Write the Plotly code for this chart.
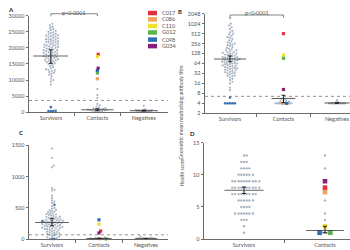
import numpy as np
import plotly.graph_objects as go

W, H = 350, 250
FONT = "Lato"
GROUPS = ["Survivors", "Contacts", "Negatives"]
IDS = ["C017", "C086", "C110", "G012", "C098", "G034"]
ID_COLORS = ["#e2313a", "#f3a15c", "#efe22a", "#5bb449", "#2d6fb7", "#8a1c7c"]
GREY = "#aab5c2"
LOWBLUE = "#3a72b5"

# ---------------- Panel A : neutralising antibody (ELISA units) ----------------
A_SURVIVORS = [27500, 27000, 26500, 26200, 25800, 25500, 25300, 25000, 24800, 24600, 24400,
               24200, 24000, 23800, 23700, 23500, 23300, 23200, 23000, 22800, 22600, 22500,
               22300, 22100, 22000, 21800, 21700, 21500, 21300, 21200, 21000, 20800, 20700,
               20500, 20300, 20200, 20000, 19800, 19700, 19500, 19300, 19200, 19000, 18800,
               18700, 18500, 18400, 18200, 18000, 17900, 17700, 17500, 17400, 17200, 17000,
               16900, 16700, 16500, 16400, 16200, 16000, 15800, 15600, 15400, 15200, 15000,
               14700, 14400, 14000, 13700, 13400, 13200, 13000, 12800, 12500, 12300, 12000,
               11700, 11200, 10500, 10000, 9500, 8600, 23900, 22700, 21900, 20900, 20100,
               19100, 18100, 17100, 16100]
A_SURVIVORS_LOW = [1600, 450, 400, 400, 350]
A_CONTACTS = [7200, 5400, 4500, 2600, 2200, 1800, 1500, 1300, 1200, 1100, 1000, 900, 850,
              800, 700, 650, 600, 500, 400, 300, 200, 100]
A_CONTACTS_ID = [18000, 10400, 17300, 12200, 13000, 13700]
A_NEGATIVES = [2000, 900, 800, 750, 700, 650, 600, 600, 550, 500, 500, 450, 400, 400, 350,
               300, 250, 200]
A_MEDIAN = [17500, 800, 500]
A_LOW = [15200, 500, 400]
A_HIGH = [19400, 1100, 650]
A_CUTOFF = 3700
A_TICKS = [0, 5000, 10000, 15000, 20000, 25000, 30000]

# ---------------- Panel B : geometric mean neutralising titre ----------------
B_SURVIVORS = [1500, 1024, 900, 800, 700, 620, 560, 512, 480, 440, 400, 380, 350, 320, 300,
               280, 260, 256, 240, 230, 220, 200, 190, 180, 170, 160, 160, 150, 145, 140, 135,
               128, 128, 125, 120, 115, 110, 108, 105, 100, 100, 98, 95, 92, 90, 88, 86, 84,
               82, 80, 80, 78, 76, 74, 72, 70, 68, 66, 64, 64, 62, 60, 58, 56, 55, 54, 52, 50,
               48, 47, 46, 45, 44, 42, 40, 40, 38, 36, 35, 34, 32, 32, 30, 28, 27, 26, 24, 22,
               20, 18, 16, 12, 10]
B_SURVIVORS_LOW = [6, 4, 4, 4, 4, 4]
B_CONTACTS = [6, 5.5, 5, 5, 4.5, 4.5, 4, 4, 4, 4, 4, 4, 4, 4, 4, 4, 4, 4, 4, 4]
B_CONTACTS_ID = [512, 4, 115, 92, 4, 10.5]
B_NEGATIVES = [5, 4, 4, 4, 4, 4, 4, 4, 4, 4, 4, 4, 4, 4, 4, 4, 4, 4, 4, 4, 4]
B_MEDIAN = [88, 5.6, 4.1]
B_LOW = [72, 4.2, 4]
B_HIGH = [108, 7, 4.3]
B_CUTOFF = 6.5
B_TICKS = [2, 4, 8, 16, 32, 64, 128, 256, 512, 1024, 2048]

# ---------------- Panel C ----------------
C_SURVIVORS = [1450, 1300, 1180, 1150, 820, 790, 780, 700, 660, 620, 600, 580, 530, 500,
               490, 470, 460, 450, 440, 430, 420, 410, 400, 395, 390, 380, 370, 360, 355, 350,
               340, 335, 330, 320, 315, 310, 305, 300, 295, 290, 285, 280, 275, 270, 265, 260,
               255, 250, 245, 240, 235, 230, 225, 220, 215, 210, 205, 200, 195, 190, 185, 180,
               175, 170, 165, 160, 150, 145, 140, 130, 120, 115, 110, 100, 95, 90, 80, 75, 70,
               60, 50, 40, 30, 20, 10]
C_SURVIVORS_LOW = [550, 290, 5, 5]
C_CONTACTS = [30, 20, 15, 12, 10, 8, 6, 5, 4, 3, 2, 1]
C_CONTACTS_ID = [130, 10, 240, 5, 310, 100]
C_NEGATIVES = [40, 25, 20, 18, 15, 12, 10, 10, 8, 8, 6, 5, 4, 3, 2]
C_MEDIAN = [268, 10, 8]
C_LOW = [215, 5, 5]
C_HIGH = [335, 15, 12]
C_CUTOFF = 70
C_TICKS = [0, 500, 1000, 1500]

# ---------------- Panel D : health score ----------------
D_SCORES = [1, 2, 3, 4, 5, 6, 7, 8, 9, 10, 11, 12, 13]
D_SURV_COUNTS = [1, 1, 3, 7, 4, 6, 9, 10, 10, 6, 4, 3, 2]
D_CONTACTS = [13, 11, 6, 4, 3, 1, 1, 1]
D_CONTACTS_ID = [8, 7.3, 2, 1, 1, 9]
D_MEDIAN = [7.6, 1.35]
D_LOW = [7.1, 1.0]
D_HIGH = [8.1, 2.0]
D_TICKS = [0, 5, 10, 15]


def swarm(pys, d, maxw):
    pys = np.asarray(pys, float)
    order = np.argsort(pys, kind="stable")
    step = d / 3.0
    cands = [0.0]
    k = 1
    while k * step <= maxw:
        cands += [k * step, -k * step]
        k += 1
    placed = []
    xs = np.zeros(len(pys))
    for i in order:
        y = pys[i]
        chosen, best, bestc = None, -1, 0.0
        near = [(px, py) for px, py in placed if abs(py - y) < d]
        for c in cands:
            md = min([(c - px) ** 2 + (y - py) ** 2 for px, py in near], default=1e9)
            if md >= d * d:
                chosen = c
                break
            if md > best:
                best, bestc = md, c
        if chosen is None:
            chosen = bestc
        xs[i] = chosen
        placed.append((chosen, y))
    return xs


fig = go.Figure()


def add_panel(xa, ya, groups, ypix, xscale, d, maxws, idsize, gsize=2.2):
    gx, gy, lx, ly = [], [], [], []
    idx = {k: ([], []) for k in range(len(IDS))}
    for cat, grey, low, ids, in groups:
        vals = list(grey) + list(low) + list(ids)
        kinds = ["g"] * len(grey) + ["l"] * len(low) + [("i", j) for j in range(len(ids))]
        off = swarm([ypix(v) for v in vals], d, maxws[cat])
        for v, k, o in zip(vals, kinds, off):
            x = cat + o / xscale
            if k == "g":
                gx.append(x); gy.append(v)
            elif k == "l":
                lx.append(x); ly.append(v)
            else:
                idx[k[1]][0].append(x); idx[k[1]][1].append(v)
    common = dict(xaxis=xa, yaxis=ya, mode="markers", showlegend=False, cliponaxis=False,
                  hoverinfo="skip")
    fig.add_trace(go.Scatter(x=gx, y=gy, marker=dict(size=gsize, color=GREY), **common))
    if lx:
        fig.add_trace(go.Scatter(x=lx, y=ly, marker=dict(size=2.6, color=LOWBLUE), **common))
    for j in range(len(IDS)):
        if idx[j][0]:
            fig.add_trace(go.Scatter(x=idx[j][0], y=idx[j][1],
                                     marker=dict(size=idsize, symbol="square", color=ID_COLORS[j]),
                                     **common))


def add_median(xa, ya, med, lo, hi, widths):
    n = len(med)
    fig.add_trace(go.Scatter(
        x=list(range(n)), y=med, xaxis=xa, yaxis=ya, mode="markers", showlegend=False,
        cliponaxis=False, hoverinfo="skip",
        marker=dict(symbol="line-ew-open", size=widths, color="#222",
                    line=dict(width=1.1, color="#222")),
        error_y=dict(type="data", symmetric=False,
                     array=[h - m for h, m in zip(hi, med)],
                     arrayminus=[m - l for m, l in zip(med, lo)],
                     width=2, thickness=1, color="#222")))


# Panel A
add_panel("x", "y", [(0, A_SURVIVORS, A_SURVIVORS_LOW, []),
                     (1, A_CONTACTS, [], A_CONTACTS_ID),
                     (2, A_NEGATIVES, [], [])],
          lambda v: v / 30000 * 99, 46.5, 2.4, {0: 11, 1: 10, 2: 8}, 3.2)
add_median("x", "y", A_MEDIAN, A_LOW, A_HIGH, [25, 23, 20])

# Panel B
add_panel("x2", "y2", [(0, B_SURVIVORS, B_SURVIVORS_LOW, []),
                       (1, B_CONTACTS, [], B_CONTACTS_ID),
                       (2, B_NEGATIVES, [], [])],
          lambda v: (np.log2(v) - 1) * 10.2, 53.5, 2.4, {0: 11, 1: 9, 2: 9}, 3.2)
add_median("x2", "y2", B_MEDIAN, B_LOW, B_HIGH, [23, 17, 18])

# Panel C
add_panel("x3", "y3", [(0, C_SURVIVORS, C_SURVIVORS_LOW, []),
                       (1, C_CONTACTS, [], C_CONTACTS_ID),
                       (2, C_NEGATIVES, [], [])],
          lambda v: v / 1500 * 96, 47, 2.4, {0: 12, 1: 9, 2: 9}, 3.2)
add_median("x3", "y3", C_MEDIAN, C_LOW, C_HIGH, [24, 18, 16])

# Panel D
D_SURVIVORS = list(np.repeat(D_SCORES, D_SURV_COUNTS))
add_panel("x4", "y4", [(0, D_SURVIVORS, [], []),
                       (1, D_CONTACTS, [], D_CONTACTS_ID)],
          lambda v: v / 15 * 99, 81, 2.7, {0: 16, 1: 8}, 4.6, gsize=2.4)
add_median("x4", "y4", D_MEDIAN, D_LOW, D_HIGH, [28, 27])

AX = dict(showline=True, linecolor="#6b6b6b", linewidth=0.8, showgrid=False, zeroline=False,
          tickfont=dict(size=5.5, color="#555", family=FONT), ticks="outside", ticklen=2.5,
          tickwidth=0.8, tickcolor="#6b6b6b", fixedrange=True)
XMINOR3 = dict(tickmode="array", tickvals=[0.5, 1.5], ticks="outside", ticklen=2.5,
               tickcolor="#6b6b6b", tickwidth=0.8)


def xax(domain, rng, cats, minor):
    d = dict(AX)
    d.update(domain=domain, range=rng, tickmode="array", tickvals=list(range(len(cats))),
             ticktext=cats, ticks="", minor=minor)
    return d


def yax(domain, rng, ticks, anchor, log=False):
    d = dict(AX)
    d.update(domain=domain, range=rng, tickmode="array", tickvals=ticks,
             ticktext=[str(t) for t in ticks], anchor=anchor)
    if log:
        d.update(type="log")
    return d


fig.update_layout(
    width=W, height=H, margin=dict(l=0, r=0, t=0, b=0),
    paper_bgcolor="white", plot_bgcolor="white", font=dict(family=FONT, size=5.5, color="#444"),
    xaxis=xax([29 / W, 168 / W], [-0.47, 2.52], GROUPS, XMINOR3) | dict(anchor="y"),
    yaxis=yax([1 - 112 / H, 1 - 13 / H], [0, 30000], A_TICKS, "x"),
    xaxis2=xax([205 / W, 1.0], [-0.467, 2.243], GROUPS, XMINOR3) | dict(anchor="y2"),
    yaxis2=yax([1 - 113 / H, 1 - 11 / H], [np.log10(2), np.log10(2048)], B_TICKS, "x2", log=True),
    xaxis3=xax([29 / W, 168 / W], [-0.49, 2.47], GROUPS, XMINOR3) | dict(anchor="y3"),
    yaxis3=yax([1 - 242 / H, 1 - 146 / H], [0, 1500], C_TICKS, "x3"),
    xaxis4=xax([204 / W, 1.0], [-0.494, 1.309], GROUPS[:2],
               dict(XMINOR3, tickvals=[0.5])) | dict(anchor="y4"),
    yaxis4=yax([1 - 242 / H, 1 - 143 / H], [0, 15], D_TICKS, "x4"),
)

shapes = []
ann = []
for xr, yr, v in [("x", "y", A_CUTOFF), ("x2", "y2", B_CUTOFF), ("x3", "y3", C_CUTOFF)]:
    shapes.append(dict(type="line", xref=xr + " domain", yref=yr, x0=0, x1=1, y0=v, y1=v,
                       line=dict(color="#777", width=0.8, dash="dot")))
for xr, ytop, ybot, tx, ty in [("x", 11, 13.5, 0.5, 5.5), ("x2", 12.3, 15, 0.5, 5.5)]:
    yt, yb = 1 - ytop / H, 1 - ybot / H
    shapes.append(dict(type="path", xref=xr, yref="paper",
                       path=f"M 0,{yb} L 0,{yt} L 1,{yt} L 1,{yb}",
                       line=dict(color="#666", width=0.8)))
    ann.append(dict(text="p<0·0001", xref=xr, yref="paper", x=tx, y=1 - ty / H,
                    showarrow=False, font=dict(size=5.5, color="#555", family=FONT)))
leg_y = [10.3, 16.8, 23.5, 30.2, 37.5, 44.2]
for name, col, yy in zip(IDS, ID_COLORS, leg_y):
    shapes.append(dict(type="rect", xref="paper", yref="paper", x0=148 / W, x1=157 / W,
                       y0=1 - (yy + 2.3) / H, y1=1 - (yy - 2.3) / H, fillcolor=col,
                       line=dict(width=0)))
    ann.append(dict(text=name, xref="paper", yref="paper", x=159.5 / W, y=1 - yy / H,
                    xanchor="left", yanchor="middle", showarrow=False,
                    font=dict(size=5.5, color="#555", family=FONT)))
for t, x, y in [("A", 7, 2.5), ("B", 180, 4), ("C", 18, 133), ("D", 193, 134)]:
    ann.append(dict(text=f"<b>{t}</b>", xref="paper", yref="paper", x=x / W, y=1 - y / H,
                    showarrow=False, borderpad=0, font=dict(size=6, color="#222", family=FONT)))
ann.append(dict(text="Geometric mean neutralising antibody titre", xref="paper", yref="paper",
                x=181 / W, y=1 - 62 / H, textangle=-90, showarrow=False,
                font=dict(size=5, color="#555", family=FONT)))
ann.append(dict(text="Health score", xref="paper", yref="paper", x=182 / W, y=1 - 190 / H,
                textangle=-90, showarrow=False, font=dict(size=5, color="#555", family=FONT)))

fig.update_layout(shapes=shapes, annotations=ann)
fig.write_html("out.html")
